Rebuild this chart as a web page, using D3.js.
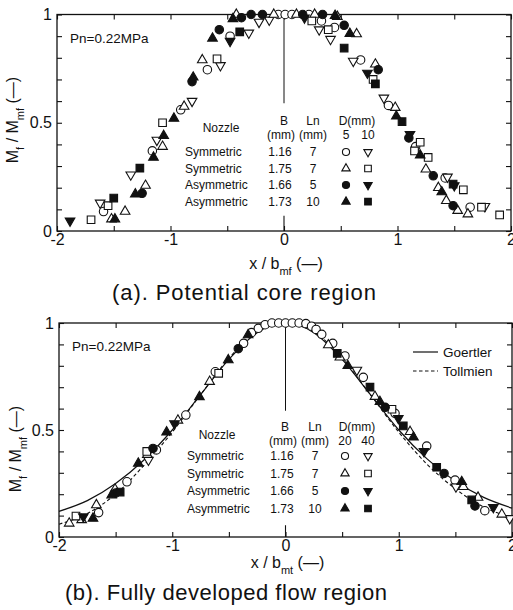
<!DOCTYPE html>
<html>
<head>
<meta charset="utf-8">
<script src="https://cdn.jsdelivr.net/npm/d3@7"></script>
<style>
  body { margin: 0; background: #fff; }
  svg { display: block; font-family: "Liberation Sans", Arial, Helvetica, sans-serif; }
  .axis path { display: none; }
  .axis line { stroke: #111; stroke-width: 1.1; }
  .axis text { font-size: 16px; fill: #111; font-family: "Liberation Sans", Arial, sans-serif; }
  .label { fill: #111; }
  .legend-text { font-size: 12px; fill: #111; }
</style>
</head>
<body>
<svg id="chart" width="513" height="610"></svg>
<script>
// ticks
const xTickValues = [-2, -1.5, -1, -0.5, 0, 0.5, 1, 1.5, 2]
const xLabelValues = [-2, -1, 0, 1, 2]
const xLabelText = ['-2', '-1', '0', '1', '2']
const yTickValues = [0, 0.1, 0.2, 0.3, 0.4, 0.5, 0.6, 0.7, 0.8, 0.9, 1]
const yLabelValues = [0, 0.5, 1]
const yLabelText = ['0', '0.5', '1']

// legend table
const nozzleNames = ['Symmetric', 'Symmetric', 'Asymmetric', 'Asymmetric']
const nozzleB = ['1.16', '1.75', '1.66', '1.73']
const nozzleLn = ['7', '7', '5', '10']
const coreD = ['5', '10']
const devD = ['20', '40']

// (a) potential core region  [x/bmf, Mf/Mmf]
const coreCircleOpen = [[-1.59, 0.09], [-1.16, 0.37], [-0.91, 0.56], [-0.675, 0.745], [-0.475, 0.90], [-0.05, 1.0], [0.01, 1.0], [0.07, 1.0], [0.22, 1.0], [0.33, 0.97], [0.445, 0.94], [0.675, 0.79], [0.92, 0.58], [1.16, 0.39], [1.42, 0.245], [1.64, 0.11]]
const coreTriDownOpen = [[-1.62, 0.13], [-1.35, 0.26], [-1.12, 0.42], [-0.81, 0.60], [-0.56, 0.765], [-0.31, 0.915], [-0.22, 0.965], [-0.13, 0.975], [0.31, 0.93], [0.41, 0.886], [0.61, 0.785], [0.88, 0.615], [1.44, 0.25], [1.77, 0.114]]
const coreTriOpen = [[-1.52, 0.055], [-1.40, 0.09], [-1.22, 0.21], [-1.07, 0.39], [-0.88, 0.575], [-0.72, 0.79], [-0.42, 1.0], [-0.09, 1.0], [0.11, 1.0], [0.27, 1.0], [0.47, 0.99], [0.64, 0.91], [0.805, 0.77], [0.98, 0.57], [1.25, 0.285], [1.36, 0.20], [1.43, 0.14], [1.53, 0.094], [1.62, 0.078]]
const coreSquareOpen = [[-1.70, 0.052], [-1.55, 0.117], [-1.07, 0.50], [-0.59, 0.795], [0.245, 0.97], [0.39, 0.93], [0.785, 0.70], [1.15, 0.37], [1.20, 0.41], [1.27, 0.34], [1.58, 0.19], [1.74, 0.11], [1.90, 0.074]]
const coreCircleFilled = [[-1.25, 0.174], [-0.81, 0.69], [-0.57, 0.93], [-0.375, 0.985], [-0.29, 1.0], [-0.19, 1.0], [0.165, 1.0], [0.34, 1.0], [0.53, 0.95], [0.83, 0.745], [1.10, 0.43], [1.315, 0.255], [1.49, 0.117]]
const coreTriDownFilled = [[-1.885, 0.047], [-0.475, 0.877], [0.18, 0.985], [0.735, 0.73], [1.11, 0.447], [1.50, 0.21]]
const coreTriFilled = [[-1.49, 0.055], [-1.31, 0.17], [-1.15, 0.34], [-1.06, 0.44], [-0.97, 0.52], [-0.80, 0.71], [-0.63, 0.89], [-0.45, 0.98], [0.45, 0.995], [0.58, 0.912], [0.99, 0.53], [1.20, 0.35], [1.39, 0.18]]
const coreSquareFilled = [[-1.50, 0.152], [-1.27, 0.29], [-0.39, 0.92], [0.53, 0.845], [0.805, 0.68], [1.04, 0.505], [1.49, 0.217]]

// (b) fully developed flow region
const devCircleOpen = [[-1.65, 0.114], [-1.40, 0.258], [-1.14, 0.407], [-0.88, 0.57], [-0.62, 0.772], [-0.37, 0.905], [-0.30, 0.955], [-0.24, 0.975], [-0.18, 0.992], [-0.12, 1.0], [-0.06, 1.0], [0, 1.0], [0.06, 1.0], [0.12, 1.0], [0.18, 0.997], [0.23, 0.985], [0.27, 0.97], [0.32, 0.947], [0.417, 0.905], [0.525, 0.846], [0.687, 0.746], [0.967, 0.578], [1.247, 0.425], [1.497, 0.266], [1.76, 0.123]]
const devTriDownOpen = [[-1.21, 0.36], [0.63, 0.78], [1.505, 0.235], [1.98, 0.087]]
const devTriOpen = [[-1.91, 0.064], [-1.80, 0.08], [-1.67, 0.15], [-1.505, 0.223], [-1.22, 0.385], [-0.95, 0.545], [-0.67, 0.726], [0.378, 0.897], [0.48, 0.84], [0.79, 0.656], [1.10, 0.492], [1.57, 0.235], [1.70, 0.185], [1.91, 0.106]]
const devSquareOpen = [[-1.85, 0.098], [-1.225, 0.40], [-0.59, 0.765], [0.94, 0.597]]
const devCircleFilled = [[-1.50, 0.205], [-1.17, 0.414], [-0.417, 0.88], [0.88, 0.606], [1.40, 0.297], [1.673, 0.145]]
const devTriDownFilled = [[-1.785, 0.095], [-0.98, 0.53], [0.996, 0.555], [1.223, 0.40], [1.835, 0.139]]
const devTriFilled = [[-1.70, 0.087], [-1.535, 0.196], [-1.30, 0.344], [-1.05, 0.49], [-0.76, 0.655], [-0.505, 0.827], [-0.33, 0.944], [0.55, 0.80], [0.834, 0.632], [1.13, 0.466], [1.556, 0.258]]
const devSquareFilled = [[-1.46, 0.21], [0.457, 0.858], [0.746, 0.70], [1.04, 0.519], [1.335, 0.326], [1.644, 0.173]]

// theory curves
const curveX = [-2, -1.75, -1.5, -1.25, -1, -0.75, -0.5, -0.25, 0, 0.25, 0.5, 0.75, 1, 1.25, 1.5, 1.75, 2]
const goertlerY = [0.12, 0.17, 0.25, 0.36, 0.5, 0.665, 0.83, 0.955, 1, 0.955, 0.83, 0.665, 0.5, 0.365, 0.26, 0.185, 0.135]
const tollmienY = [0.06, 0.11, 0.2, 0.335, 0.49, 0.665, 0.835, 0.96, 1, 0.96, 0.835, 0.665, 0.49, 0.34, 0.225, 0.14, 0.09]

const $svg = d3.select('#chart')

// marker style per legend row / D column
const MARKERS = [
  [{ shape: 'circle', filled: false }, { shape: 'down', filled: false }],
  [{ shape: 'tri', filled: false }, { shape: 'square', filled: false }],
  [{ shape: 'circle', filled: true }, { shape: 'down', filled: true }],
  [{ shape: 'tri', filled: true }, { shape: 'square', filled: true }]
]
const SIZE = { circle: 56, tri: 40, down: 40, square: 58 }
const LEGEND_SIZE = { circle: 40, tri: 30, down: 30, square: 44 }

const PANELS = [
  {
    left: 57, right: 511, top: 14.5, bottom: 231,
    zeroTick: 0.07, centerLine: 0.59,
    series: [[coreCircleOpen, coreTriDownOpen], [coreTriOpen, coreSquareOpen], [coreCircleFilled, coreTriDownFilled], [coreTriFilled, coreSquareFilled]],
    dLabels: coreD,
    pn: { x: 70, y: 38 },
    yLabel: { x: 18, y: 120 },
    xLabel: { y: 269, sub: 'mf' },
    caption: { text: '(a). Potential core region', x: 112, y: 300, len: 264 },
    table: { nozzleX: 185, nozzleHead: [221, 128], headY: [120.5, 135], bX: 280, bHeadX: 284, lnX: 313, dX: [346, 368], dHeadX: 357, rows: [152, 168.5, 185, 201.7] },
    theory: false
  },
  {
    left: 59, right: 512, top: 323, bottom: 537,
    zeroTick: 0.055, centerLine: 0.59,
    series: [[devCircleOpen, devTriDownOpen], [devTriOpen, devSquareOpen], [devCircleFilled, devTriDownFilled], [devTriFilled, devSquareFilled]],
    dLabels: devD,
    pn: { x: 72, y: 346 },
    yLabel: { x: 21, y: 449 },
    xLabel: { y: 568, sub: 'mt' },
    caption: { text: '(b). Fully developed flow region', x: 65, y: 600, len: 322 },
    table: { nozzleX: 187, nozzleHead: [217, 435], headY: [427, 441], bX: 282, bHeadX: 285, lnX: 315, dX: [345, 368], dHeadX: 357, rows: [456, 473.5, 491, 508.5] },
    theory: true
  }
]

function symbolPath(shape, size) {
  const type = shape === 'circle' ? d3.symbolCircle : shape === 'square' ? d3.symbolSquare : d3.symbolTriangle
  return d3.symbol().type(type).size(size)()
}

function addMarker(sel, style, size) {
  sel.attr('d', symbolPath(style.shape, size[style.shape]))
    .attr('fill', style.filled ? '#111' : '#fff')
    .attr('stroke', '#111')
    .attr('stroke-width', 1.1)
}

function drawPanel(p) {
  const x = d3.scaleLinear().domain([-2, 2]).range([p.left, p.right])
  const y = d3.scaleLinear().domain([0, 1]).range([p.bottom, p.top])
  const g = $svg.append('g')

  const xFormat = d => {
    const i = xLabelValues.indexOf(d)
    return i < 0 ? '' : xLabelText[i]
  }
  const yFormat = d => {
    const i = yLabelValues.findIndex(v => Math.abs(v - d) < 1e-9)
    return i < 0 ? '' : yLabelText[i]
  }

  g.append('g').attr('class', 'axis')
    .attr('transform', `translate(0, ${p.bottom})`)
    .call(d3.axisBottom(x).tickValues(xTickValues).tickSize(-5).tickPadding(3).tickFormat(xFormat))
  g.append('g').attr('class', 'axis')
    .attr('transform', `translate(0, ${p.top})`)
    .call(d3.axisTop(x).tickValues(xTickValues).tickSize(-5).tickFormat(''))
  g.append('g').attr('class', 'axis')
    .attr('transform', `translate(${p.left}, 0)`)
    .call(d3.axisLeft(y).tickValues(yTickValues).tickSize(-5).tickPadding(5).tickFormat(yFormat))
  g.append('g').attr('class', 'axis')
    .attr('transform', `translate(${p.right}, 0)`)
    .call(d3.axisRight(y).tickValues(yTickValues).tickSize(-5).tickFormat(''))

  g.append('rect')
    .attr('x', p.left).attr('y', p.top)
    .attr('width', p.right - p.left).attr('height', p.bottom - p.top)
    .attr('fill', 'none').attr('stroke', '#111').attr('stroke-width', 1.3)

  // x = 0 reference line and long zero tick
  g.append('line')
    .attr('x1', x(0)).attr('x2', x(0))
    .attr('y1', y(1)).attr('y2', y(p.centerLine))
    .attr('stroke', '#111').attr('stroke-width', 1)
  g.append('line')
    .attr('x1', x(0)).attr('x2', x(0))
    .attr('y1', y(0)).attr('y2', y(p.zeroTick))
    .attr('stroke', '#111').attr('stroke-width', 1.1)

  if (p.theory) {
    const line = ys => d3.line()
      .x((d, i) => x(curveX[i]))
      .y(d => y(d))
      .curve(d3.curveMonotoneX)(ys)
    g.append('path').attr('d', line(goertlerY))
      .attr('fill', 'none').attr('stroke', '#111').attr('stroke-width', 1.2)
    g.append('path').attr('d', line(tollmienY))
      .attr('fill', 'none').attr('stroke', '#111').attr('stroke-width', 1.1)
      .attr('stroke-dasharray', '3.5,2.5')

    const lg = g.append('g')
    lg.append('line').attr('x1', 413).attr('x2', 438).attr('y1', 352).attr('y2', 352)
      .attr('stroke', '#111').attr('stroke-width', 1.2)
    lg.append('line').attr('x1', 413).attr('x2', 438).attr('y1', 371).attr('y2', 371)
      .attr('stroke', '#111').attr('stroke-width', 1.1).attr('stroke-dasharray', '3.5,2.5')
    lg.append('text').attr('class', 'label').attr('x', 443).attr('y', 352).attr('dy', '0.35em')
      .style('font-size', '13.5px').text('Goertler')
    lg.append('text').attr('class', 'label').attr('x', 443).attr('y', 371).attr('dy', '0.35em')
      .style('font-size', '13.5px').text('Tollmien')
  }

  // data points
  p.series.forEach((row, r) => {
    row.forEach((points, c) => {
      const style = MARKERS[r][c]
      g.append('g').selectAll('path')
        .data(points)
        .enter()
        .append('path')
        .attr('transform', d => `translate(${x(d[0])}, ${y(d[1])})${style.shape === 'down' ? ' rotate(180)' : ''}`)
        .call(addMarker, style, SIZE)
    })
  })

  // legend table
  const t = p.table
  const tg = g.append('g').attr('class', 'legend-text')
  tg.append('text').attr('x', t.nozzleHead[0]).attr('y', t.nozzleHead[1]).attr('dy', '0.35em')
    .attr('text-anchor', 'middle').text('Nozzle')
  tg.append('text').attr('x', t.bHeadX).attr('y', t.headY[0]).attr('dy', '0.35em').attr('text-anchor', 'middle').text('B')
  tg.append('text').attr('x', t.bX + 1).attr('y', t.headY[1]).attr('dy', '0.35em').attr('text-anchor', 'middle').text('(mm)')
  tg.append('text').attr('x', t.lnX).attr('y', t.headY[0]).attr('dy', '0.35em').attr('text-anchor', 'middle').text('Ln')
  tg.append('text').attr('x', t.lnX).attr('y', t.headY[1]).attr('dy', '0.35em').attr('text-anchor', 'middle').text('(mm)')
  tg.append('text').attr('x', t.dHeadX).attr('y', t.headY[0]).attr('dy', '0.35em').attr('text-anchor', 'middle').text('D(mm)')
  p.dLabels.forEach((d, c) => {
    tg.append('text').attr('x', t.dX[c]).attr('y', t.headY[1]).attr('dy', '0.35em').attr('text-anchor', 'middle').text(d)
  })
  nozzleNames.forEach((name, r) => {
    const ry = t.rows[r]
    tg.append('text').attr('x', t.nozzleX).attr('y', ry).attr('dy', '0.35em').text(name)
    tg.append('text').attr('x', t.bX).attr('y', ry).attr('dy', '0.35em').attr('text-anchor', 'middle').text(nozzleB[r])
    tg.append('text').attr('x', t.lnX).attr('y', ry).attr('dy', '0.35em').attr('text-anchor', 'middle').text(nozzleLn[r])
    MARKERS[r].forEach((style, c) => {
      tg.append('path')
        .attr('transform', `translate(${t.dX[c]}, ${ry})${style.shape === 'down' ? ' rotate(180)' : ''}`)
        .call(addMarker, style, LEGEND_SIZE)
    })
  })

  g.append('text').attr('class', 'label')
    .attr('x', p.pn.x).attr('y', p.pn.y).attr('dy', '0.35em')
    .style('font-size', '13.5px')
    .text('Pn=0.22MPa')

  // axis titles
  const yl = g.append('text').attr('class', 'label')
    .attr('transform', `translate(${p.yLabel.x}, ${p.yLabel.y}) rotate(-90)`)
    .attr('text-anchor', 'middle')
    .style('font-size', '16px')
  yl.append('tspan').text('M')
  yl.append('tspan').attr('baseline-shift', 'sub').style('font-size', '11px').text('f')
  yl.append('tspan').text(' / M')
  yl.append('tspan').attr('baseline-shift', 'sub').style('font-size', '11px').text('mf')
  yl.append('tspan').text(' (\u2014)')

  const xl = g.append('text').attr('class', 'label')
    .attr('x', x(0) + 2).attr('y', p.xLabel.y)
    .attr('text-anchor', 'middle')
    .style('font-size', '16px')
  xl.append('tspan').text('x / b')
  xl.append('tspan').attr('baseline-shift', 'sub').style('font-size', '11px').text(p.xLabel.sub)
  xl.append('tspan').text(' (\u2014)')

  g.append('text').attr('class', 'label')
    .attr('x', p.caption.x).attr('y', p.caption.y)
    .attr('textLength', p.caption.len).attr('lengthAdjust', 'spacing')
    .style('font-size', '22px')
    .text(p.caption.text)
}

PANELS.forEach(drawPanel)
</script>
</body>
</html>
